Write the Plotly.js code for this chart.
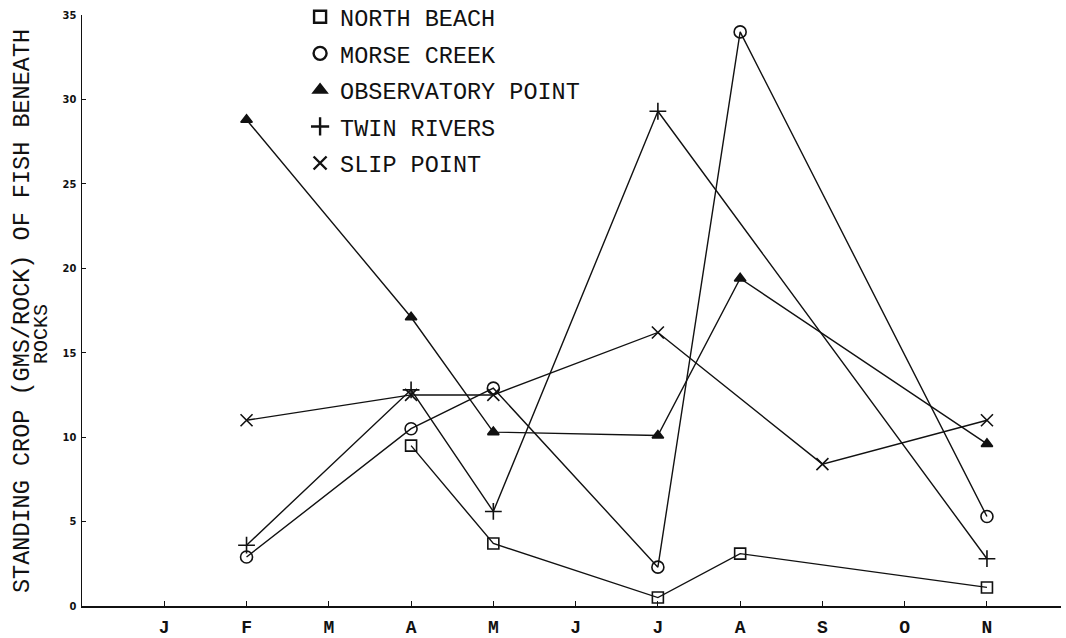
<!DOCTYPE html>
<html>
<head>
<meta charset="utf-8">
<script src="https://cdn.plot.ly/plotly-3.0.1.min.js"></script>
<style>
html,body{margin:0;padding:0;background:#fff;}
#chart{width:1066px;height:638px;}
</style>
</head>
<body>
<div id="chart"></div>
<script>
// Month keys (x positions) and tick labels
const monthKeys = ['Jan','Feb','Mar','Apr','May','Jun','Jul','Aug','Sep','Oct','Nov'];
const monthLabels = ['J','F','M','A','M','J','J','A','S','O','N'];
const yTicks = [0,5,10,15,20,25,30,35];

// Series (month sampled, standing crop gms/rock)
const northBeachMonths = ['Apr','May','Jul','Aug','Nov'];
const northBeachValues = [9.5, 3.7, 0.5, 3.1, 1.1];

const morseCreekMonths = ['Feb','Apr','May','Jul','Aug','Nov'];
const morseCreekValues = [2.9, 10.5, 12.9, 2.3, 34.0, 5.3];

const observatoryMonths = ['Feb','Apr','May','Jul','Aug','Nov'];
const observatoryValues = [28.8, 17.1, 10.3, 10.1, 19.4, 9.6];

const twinRiversMonths = ['Feb','Apr','May','Jul','Nov'];
const twinRiversValues = [3.6, 12.8, 5.6, 29.3, 2.8];

const slipPointMonths = ['Feb','Apr','May','Jul','Sep','Nov'];
const slipPointValues = [11.0, 12.5, 12.5, 16.2, 8.4, 11.0];

const seriesNames = ['NORTH BEACH','MORSE CREEK','OBSERVATORY POINT','TWIN RIVERS','SLIP POINT'];

const FONT = '"Liberation Mono", "Courier New", monospace';
const INK = '#111';

const series = [
  {name: seriesNames[0], m: northBeachMonths, v: northBeachValues, sym: 'square-open', size: 11},
  {name: seriesNames[1], m: morseCreekMonths, v: morseCreekValues, sym: 'circle-open', size: 12},
  {name: seriesNames[2], m: observatoryMonths, v: observatoryValues, sym: 'triangle-up', size: 10},
  {name: seriesNames[3], m: twinRiversMonths, v: twinRiversValues, sym: 'cross-thin-open', size: 12},
  {name: seriesNames[4], m: slipPointMonths, v: slipPointValues, sym: 'x-thin-open', size: 12}
];

const traces = [];
series.forEach((s, i) => {
  traces.push({
    type: 'scatter', mode: 'lines+markers',
    x: s.m.map(k => monthKeys.indexOf(k)), y: s.v,
    line: {color: INK, width: 1.4},
    marker: {symbol: s.sym, size: s.size, color: INK, line: {color: INK, width: 1.6}},
    showlegend: false, hoverinfo: 'skip'
  });
});
series.forEach((s, i) => {
  traces.push({
    type: 'scatter', mode: 'markers', name: s.name,
    x: [null], y: [null], legendgroup: 'g' + i,
    marker: {symbol: s.sym, size: s.size + 1, color: INK, line: {color: INK, width: 2.4}},
    showlegend: true
  });
});

const layout = {
  width: 1066, height: 638,
  margin: {l: 82, r: 5, t: 15, b: 32, autoexpand: false},
  paper_bgcolor: '#fff', plot_bgcolor: '#fff',
  font: {family: FONT, color: INK},
  showlegend: true,
  legend: {
    xref: 'container', yref: 'paper',
    x: 0.2815, xanchor: 'left', y: 1.0338, yanchor: 'top',
    bgcolor: 'rgba(0,0,0,0)', borderwidth: 0,
    font: {family: FONT, size: 23.5, color: INK},
    tracegroupgap: 3, itemwidth: 30, traceorder: 'grouped'
  },
  xaxis: {
    range: [-1.0, 10.9], tickmode: 'array',
    tickvals: monthKeys.map((k, i) => i), ticktext: monthLabels,
    showgrid: false, zeroline: false, showline: true, linecolor: INK, linewidth: 1.5,
    ticks: 'inside', ticklen: 5, tickcolor: INK, tickwidth: 1,
    tickfont: {family: FONT, size: 18, color: INK, weight: 'bold'},
    ticklabelstandoff: 4
  },
  yaxis: {
    range: [0, 35], tickmode: 'array', tickvals: yTicks,
    showgrid: false, zeroline: false, showline: true, linecolor: INK, linewidth: 1.5,
    ticks: 'inside', ticklen: 4, tickcolor: INK, tickwidth: 1,
    tickfont: {family: '"DejaVu Sans Condensed", "DejaVu Sans", sans-serif', size: 11, color: INK, weight: 'bold'},
    ticklabelstandoff: 2
  },
  annotations: [
    {text: 'STANDING CROP (GMS/ROCK) OF FISH BENEATH', xref: 'paper', yref: 'paper',
     x: (22 - 82) / 979, y: (606 - 311) / 591, xanchor: 'center', yanchor: 'middle',
     textangle: -90, showarrow: false, font: {family: FONT, size: 23.5, color: INK}},
    {text: 'ROCKS', xref: 'paper', yref: 'paper',
     x: (41 - 82) / 979, y: (606 - 334) / 591, xanchor: 'center', yanchor: 'middle',
     textangle: -90, showarrow: false, font: {family: FONT, size: 20, color: INK}}
  ]
};

Plotly.newPlot('chart', traces, layout, {displayModeBar: false, staticPlot: true});
</script>
</body>
</html>
